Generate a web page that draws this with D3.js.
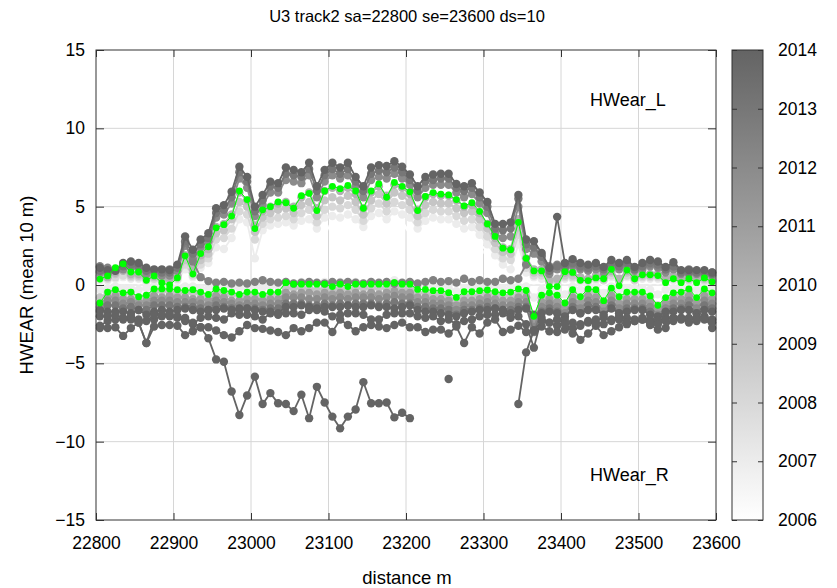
<!DOCTYPE html>
<html><head><meta charset="utf-8">
<script src="https://cdn.jsdelivr.net/npm/d3@7"></script>
<style>body{margin:0;background:#fff} text{font-family:"Liberation Sans",Arial,sans-serif;fill:#000}</style>
</head><body><svg id="chart" width="837" height="588"></svg>
<script>
// ---- data ----
const distStart = 22805, distStep = 10;   // sa=22800, mean over 10 m bins
const xTicks = [22800,22900,23000,23100,23200,23300,23400,23500,23600];
const yTicks = [-15,-10,-5,0,5,10,15];
const years = [2006,2007,2008,2009,2010,2011,2012,2013,2014];

const hwearL2006 = [0.2,0.2,0.3,0.3,0.3,0.3,0.2,0.2,0.1,0.1,0.2,
 0.8,0.4,0.9,1.2,2.0,2.0,2.6,3.6,3.5,2.8, 3.1,3.3,3.4,3.4,3.3,3.5,3.6,3.1,3.6,3.7,
 3.6,3.7,3.5,3.1,3.6,3.8,3.5,3.9,3.7,3.6, 3.1,3.5,3.6,3.5,3.5,3.3,3.1,3.1,2.7,2.1, 1.5,1.0,0.9,2.0,
 0.6,0.3,0.3,0.1,0.1,0.3,0.3,0.2,0.2,0.2,0.2,0.3,0.2,0.3,0.2,0.3,0.3,0.3,0.2,0.2,0.2,0.2,0.2,0.2,0.1];
const hwearL2007 = [0.3,0.3,0.4,0.5,0.4,0.4,0.2,0.3,0.2,0.2,0.3,
 1.0,0.5,1.1,1.4,2.4,2.3,3.0,4.2,4.0,1.7, 3.5,3.8,3.9,4.0,3.8,4.1,4.2,3.6,4.3,4.4,
 4.3,4.5,4.2,3.7,4.4,4.6,4.2,4.7,4.5,4.3, 3.6,4.1,4.3,4.2,4.2,3.9,3.6,3.7,3.2,2.6, 1.9,1.3,1.0,2.6,
 0.8,0.5,0.4,0.1,0.2,0.4,0.4,0.2,0.2,0.3,0.3,0.5,0.2,0.5,0.3,0.4,0.4,0.4,0.2,0.3,0.2,0.3,0.2,0.2,0.1];
const hwearL2008 = [0.4,0.4,0.5,0.6,0.5,0.5,0.3,0.4,0.2,0.3,0.4,
 1.3,0.6,1.3,1.7,2.9,3.0,3.6,4.7,4.5,2.9, 3.9,4.2,4.3,4.4,4.2,4.6,4.8,4.0,4.8,5.0,
 4.9,5.1,4.8,4.1,4.9,5.2,4.7,5.3,5.1,4.8, 4.0,4.6,4.8,4.7,4.7,4.4,4.1,4.2,3.7,3.1, 2.3,1.7,1.6,3.2,
 1.1,0.6,0.6,0.2,0.2,0.5,0.5,0.3,0.3,0.4,0.3,0.6,0.3,0.6,0.3,0.5,0.5,0.5,0.3,0.4,0.3,0.3,0.3,0.3,0.2];
const hwearL2009 = [0.5,0.5,0.7,1.0,0.6,0.6,0.4,0.5,0.3,0.3,0.5,
 1.6,0.8,1.6,2.0,3.3,3.5,4.2,5.3,5.0,3.4, 4.3,4.6,4.8,4.9,4.6,5.1,5.3,4.4,5.4,5.6,
 5.4,5.7,5.3,4.5,5.4,5.8,5.2,5.9,5.7,5.3, 4.4,5.1,5.3,5.2,5.2,4.9,4.6,4.7,4.2,3.6, 2.7,2.1,2.0,3.7,
 1.4,0.8,0.8,0.2,0.3,0.6,0.6,0.4,0.3,0.5,0.4,0.8,0.3,0.8,0.4,0.6,0.6,0.6,0.3,0.5,0.3,0.4,0.3,0.4,0.2];
const hwearL2010 = [0.6,0.5,0.8,0.9,0.7,0.7,0.5,0.6,0.4,0.4,0.6,
 1.9,1.0,1.9,2.3,3.7,3.9,4.5,5.9,5.4,3.8, 4.7,5.0,5.2,5.3,5.0,5.6,5.9,4.9,6.0,6.2,
 6.0,6.2,5.8,4.9,5.9,6.3,5.7,6.4,6.2,5.8, 4.8,5.6,5.8,5.7,5.7,5.4,5.0,5.1,4.6,3.9, 3.0,2.4,2.3,4.2,
 1.7,1.0,1.0,0.3,0.4,0.8,0.8,0.5,0.4,0.6,0.5,0.9,0.4,0.9,0.5,0.7,0.7,0.7,0.4,0.6,0.4,0.5,0.4,0.5,0.3];
const hwearL2012 = [0.8,0.7,0.9,1.0,1.1,1.0,0.7,0.8,0.6,0.6,0.9,
 2.5,1.7,2.4,2.8,4.3,4.5,5.2,6.8,6.2,4.4, 5.1,5.9,5.9,6.7,6.6,6.5,7.0,5.6,6.6,7.0,
 6.8,7.0,6.3,5.6,6.7,6.9,6.8,7.1,6.8,6.4, 5.6,6.2,6.4,6.4,6.4,5.9,5.6,5.8,5.2,4.6, 3.3,3.0,3.1,5.0,
 2.3,2.0,1.5,0.7,1.0,1.0,1.2,1.0,0.9,1.0,0.8,1.2,1.0,1.2,0.9,1.0,1.2,1.1,0.8,1.0,0.7,0.7,0.7,0.6,0.6];
const hwearL2013 = [0.9,0.8,1.0,1.2,1.3,1.2,0.9,0.9,0.8,0.8,1.1,
 2.8,2.0,2.6,3.0,4.6,4.8,5.6,7.2,6.6,4.7, 5.4,6.3,6.2,7.1,7.0,6.9,7.4,6.0,7.0,7.4,
 7.1,7.4,6.6,6.0,7.1,7.3,7.2,7.5,7.2,6.7, 6.0,6.6,6.7,6.8,6.8,6.2,6.0,6.2,5.6,5.0, 3.6,3.5,3.6,5.5,
 2.6,2.4,1.8,0.9,1.2,1.2,1.4,1.2,1.1,1.2,1.0,1.4,1.2,1.4,1.0,1.2,1.4,1.3,1.0,1.2,0.8,0.8,0.8,0.8,0.7];
const hwearL2014a = [1.1,0.95,0.9,1.4,1.5,1.4,1.1,1.0,1.0,0.95,1.3,
 3.1,2.25,2.9,3.3,4.9,5.1,5.95,7.55,6.9,5.0, 5.75,6.6,6.5,7.5,7.35,7.2,7.8,6.3,7.35,7.8,
 7.5,7.8,6.9,6.3,7.5,7.65,7.6,7.9,7.55,7.05, 6.3,6.9,7.05,7.1,7.1,6.45,6.3,6.5,5.9,5.3, 3.9,3.9,4.0,5.75,
 2.9,2.8,2.05,1.1,4.35,1.4,1.65,1.4,1.3,1.4,1.15,1.6,1.4,1.6,1.15,1.4,1.6,1.5,1.15,1.45,0.95,0.95,0.95,0.95,0.8];
const hwearL2014b = [1.2,1.1,1.0,1.3,1.2,1.3,1.0,0.9,0.9,1.0,1.2,
 2.7,1.5,0.5,0.25,0.15,0.2,0.1,0.15,0.1,0.2, 0.3,0.2,0.15,0.2,0.1,0.15,0.2,0.15,0.1,0.2,
 0.15,0.2,0.15,0.1,0.2,0.15,0.2,0.1,0.15,0.2, 0.1,0.2,0.3,0.2,0.25,0.15,0.4,0.2,0.3,0.2, 0.2,0.4,0.3,0.4,
 1.3,2.4,1.9,1.2,1.3,1.2,1.3,1.1,1.0,1.2,1.1,1.3,1.2,1.4,1.1,1.2,1.3,1.2,1.0,1.2,0.9,1.0,0.9,0.8,0.8];

const hwearR2007 = [-0.3,-0.2,-0.1,-0.2,-0.2,-0.3,-0.2,-0.1,-0.1,-0.1,-0.2,
 -0.1,-0.1,-0.2,-0.2,-0.1,-0.1,-0.2,-0.2,-0.2,-0.2, -0.2,-0.1,-0.1,0.2,0.1,0.2,0.1,0.1,0.2,0.1,
 0.2,0.1,0.2,0.1,0.2,0.1,0.2,0.3,0.1,0.2, -0.1,0.0,-0.1,0.0,-0.2,-0.4,-0.2,-0.2,-0.1,-0.1, -0.1,-0.2,-0.2,-0.1,
 -0.1,-0.8,-0.3,-0.2,-0.3,-0.6,-0.1,-0.3,-0.1,-0.1,-0.5,-0.1,-0.3,-0.2,-0.2,-0.2,-0.3,-0.6,-0.3,-0.2,-0.2,-0.1,-0.3,-0.1,-0.2];
const hwearR2009 = [-0.8,-0.5,-0.4,-0.6,-0.5,-0.8,-0.7,-0.4,-0.4,-0.4,-0.5,
 -0.5,-0.5,-0.6,-0.7,-0.4,-0.5,-0.6,-0.7,-0.6,-0.6, -0.7,-0.6,-0.6,-0.2,-0.2,-0.2,-0.2,-0.3,-0.2,-0.3,
 -0.2,-0.3,-0.2,-0.2,-0.2,-0.2,-0.2,-0.1,-0.2,-0.2, -0.5,-0.5,-0.6,-0.6,-0.7,-1.0,-0.7,-0.7,-0.6,-0.5, -0.6,-0.7,-0.7,-0.5,
 -0.5,-2.0,-0.8,-0.6,-0.8,-1.2,-0.5,-0.9,-0.4,-0.5,-1.1,-0.4,-0.9,-0.6,-0.6,-0.6,-0.8,-1.3,-0.9,-0.6,-0.6,-0.4,-0.9,-0.4,-0.6];
const hwearR2011 = [-1.2,-0.8,-0.7,-0.9,-0.9,-1.1,-1.0,-0.7,-0.8,-0.7,-0.8,
 -0.8,-0.9,-0.9,-1.0,-0.7,-0.8,-1.0,-1.0,-0.9,-0.9, -1.0,-0.9,-0.9,-0.5,-0.6,-0.5,-0.5,-0.6,-0.5,-0.6,
 -0.5,-0.6,-0.5,-0.6,-0.5,-0.6,-0.5,-0.4,-0.5,-0.5, -0.8,-0.8,-0.9,-0.9,-1.0,-1.3,-1.0,-1.0,-0.9,-0.8, -0.9,-1.0,-1.0,-0.8,
 -0.8,-2.4,-1.1,-0.9,-1.1,-1.5,-0.8,-1.2,-0.7,-0.8,-1.4,-0.7,-1.2,-0.9,-0.9,-0.9,-1.1,-1.6,-1.2,-0.9,-0.9,-0.7,-1.2,-0.7,-0.9];
const hwearR2012 = [-1.4,-1.0,-1.0,-1.2,-1.1,-1.3,-1.3,-1.0,-1.0,-1.0,-1.1,
 -1.1,-1.1,-1.2,-1.3,-1.0,-1.1,-1.2,-1.3,-1.2,-1.2, -1.3,-1.2,-1.2,-0.8,-0.8,-0.8,-0.9,-0.9,-0.8,-0.9,
 -0.8,-0.9,-0.8,-0.8,-0.8,-0.9,-0.8,-0.7,-0.8,-0.8, -1.1,-1.1,-1.2,-1.2,-1.3,-1.6,-1.3,-1.3,-1.2,-1.1, -1.2,-1.3,-1.3,-1.1,
 -1.1,-2.7,-1.4,-1.2,-1.4,-1.8,-1.1,-1.5,-1.0,-1.1,-1.7,-1.0,-1.5,-1.2,-1.2,-1.2,-1.4,-1.9,-1.5,-1.2,-1.2,-1.0,-1.5,-1.0,-1.2];
const hwearR2013 = [-1.7,-1.3,-1.3,-1.5,-1.4,-1.6,-1.6,-1.3,-1.3,-1.3,-1.4,
 -1.4,-1.4,-1.5,-1.6,-1.3,-1.4,-1.5,-1.6,-1.5,-1.5, -1.6,-1.5,-1.5,-1.2,-1.2,-1.2,-1.3,-1.3,-1.2,-1.3,
 -1.2,-1.3,-1.2,-1.2,-1.2,-1.3,-1.2,-1.1,-1.2,-1.2, -1.4,-1.4,-1.5,-1.5,-1.6,-1.9,-1.6,-1.6,-1.5,-1.4, -1.5,-1.6,-1.6,-1.4,
 -1.4,-3.0,-1.7,-1.5,-1.7,-2.1,-1.4,-1.8,-1.3,-1.4,-2.0,-1.3,-1.8,-1.5,-1.5,-1.5,-1.7,-2.2,-1.8,-1.5,-1.5,-1.3,-1.8,-1.3,-1.5];
const hwearR2014a = [-1.6,-1.7,-1.7,-1.7,-1.8,-1.6,-1.9,-1.7,-1.6,-1.7,-1.6,
 -1.5,-1.6,-1.7,-1.6,-1.6,-1.5,-1.6,-1.5,-1.5,-1.6, -1.7,-1.7,-1.8,-1.4,-1.4,-1.3,-1.4,-1.5,-1.4,-1.4,
 -1.4,-1.3,-1.4,-1.4,-1.3,-1.4,-1.4,-1.5,-1.4,-1.3, -1.6,-1.7,-1.7,-1.8,-1.9,-2.0,-1.8,-1.7,-1.6,-1.6, -1.5,-1.6,-1.8,-1.6,
 -1.5,-1.9,-1.8,-1.7,-1.8,-2.0,-1.6,-1.8,-1.6,-1.6,-1.9,-1.5,-1.8,-1.7,-1.6,-1.6,-1.9,-2.0,-1.7,-1.7,-1.6,-1.6,-1.8,-1.6,-1.7];
const hwearR2014b = [-2.6,-2.3,-2.2,-2.2,-2.2,-2.4,-3.7,-2.2,-2.0,-2.0,-2.1,
 -2.3,-2.5,-2.1,-2.0,-2.1,-2.2,-1.8,-1.9,-1.9,-2.0, -2.2,-1.8,-1.9,-1.8,-1.8,-1.9,-1.6,-1.6,-1.7,-2.0,
 -1.9,-1.8,-1.8,-1.9,-2.2,-2.2,-1.9,-1.8,-1.8,-1.8, -2.0,-2.1,-2.0,-2.3,-2.2,-2.5,-2.3,-2.2,-2.0,-1.9, -1.9,-1.8,-2.1,-2.0,
 -2.5,-4.0,-2.1,-2.4,-2.6,-2.3,-3.1,-2.5,-2.4,-2.2,-2.1,-2.2,-2.0,-2.5,-2.3,-2.1,-2.2,-2.3,-2.1,-2.1,-2.1,-2.2,-2.1,-2.0,-2.2];
const hwearR2014c = [-2.75,-2.75,-2.7,-3.25,-2.75,-2.4,-3.7,-2.65,-2.55,-2.55,-2.6,
 -3.2,-2.95,-2.7,-2.7,-2.9,-3.2,-3.35,-2.95,-2.55,-2.75, -2.8,-2.9,-3.0,-3.2,-2.75,-2.95,-2.75,-2.4,-2.4,-3.0,
 -2.2,-2.55,-2.95,-2.7,-2.55,-2.65,-2.75,-2.55,-2.4,-2.7, -2.7,-3.0,-2.85,-2.85,-3.1,-2.65,-3.7,-2.7,-3.1,-2.4, -2.2,-3.0,-2.85,-2.6,
 -3.0,-2.9,-2.65,-2.95,-3.0,-2.85,-2.75,-3.5,-3.1,-2.6,-3.2,-2.95,-2.7,-2.1,-2.2,-2.2,-2.55,-2.85,-2.75,-2.1,-2.1,-2.1,-2.1,-2.05,-2.75];
const hwearR2014d = [-2.0,-2.0,-1.9,-2.1,-2.0,-2.2,-2.3,-1.9,-1.9,-1.9,-2.0,
 -2.1,-2.4,-2.7,-3.4,-4.75,-4.9,-6.8,-8.3,-7.05,-5.85, -7.6,-6.9,-7.55,-7.6,-8.05,-7.0,-8.5,-6.5,-7.5,-8.4,
 -9.15,-8.4,-7.95,-6.2,-7.55,-7.55,-7.5,-8.45,-8.15,-8.5, null,null,null,null,-6.0,null,null,null,null,null, null,null,null,-7.6,
 -4.3,-2.9,-2.3,-2.4,-2.2,-2.5,-2.4,-2.6,-2.3,-2.4,-2.5,-2.3,-2.2,-2.4,-2.3,-2.2,-2.4,-2.5,-2.3,-2.3,-2.2,-2.4,-2.3,-2.2,-2.4];

const greenL = [0.38,0.58,1.1,1.35,0.83,0.83,0.3,0.58,0.13,0.0,0.45,
 1.86,0.7,2.0,2.44,3.65,3.85,4.4,6.0,5.45,3.6, 4.8,5.0,5.3,5.25,4.9,5.7,5.85,4.75,6.0,6.3,
 6.15,6.35,6.0,4.9,6.0,6.45,5.6,6.55,6.3,5.95, 4.75,5.65,5.9,5.8,5.75,5.45,5.05,5.25,4.7,3.9, 3.1,2.35,2.25,4.0,
 1.7,0.9,0.9,-0.1,-0.1,0.85,0.8,0.3,0.28,0.45, 0.4,1.0,-0.05,0.95,0.4,0.65,0.65,0.6,0.15,0.4, 0.15,0.4,0.15,0.45,0.2];
const greenR = [-1.15,-0.45,-0.3,-0.5,-0.45,-0.75,-0.65,-0.25,-0.25,-0.25,-0.3,
 -0.35,-0.3,-0.45,-0.6,-0.25,-0.35,-0.45,-0.6,-0.45,-0.45, -0.6,-0.45,-0.45,0.15,0.05,0.05,0.05,0.05,0.05,-0.1,
 0.05,-0.1,0.05,0.05,0.05,0.05,0.05,0.15,0.05,0.05, -0.28,-0.28,-0.36,-0.36,-0.49,-0.79,-0.43,-0.43,-0.36,-0.32, -0.43,-0.5,-0.45,-0.25,
 -0.35,-2.0,-0.65,-0.5,-0.65,-1.15,-0.3,-0.75,-0.25,-0.3, -1.0,-0.2,-0.75,-0.45,-0.45,-0.45,-0.7,-1.3,-0.8,-0.5, -0.45,-0.25,-0.8,-0.25,-0.5];

const graySeries = [
  {year:2006, values:hwearL2006}, {year:2007, values:hwearL2007}, {year:2007, values:hwearR2007},
  {year:2008, values:hwearL2008}, {year:2009, values:hwearL2009}, {year:2009, values:hwearR2009},
  {year:2010, values:hwearL2010}, {year:2011, values:hwearR2011},
  {year:2012, values:hwearL2012}, {year:2012, values:hwearR2012},
  {year:2012.5, values:hwearL2014b},
  {year:2013, values:hwearL2013}, {year:2013, values:hwearR2013},
  {year:2014, values:hwearL2014a},
  {year:2014, values:hwearR2014a}, {year:2014, values:hwearR2014b},
  {year:2014, values:hwearR2014c}, {year:2014, values:hwearR2014d}
];
const greenSeries = [greenL, greenR];

// ---- layout ----
const L = 96, R = 716, T = 50, B = 520;
const svg = d3.select("#chart");
const x = d3.scaleLinear().domain([22800,23600]).range([L,R]);
const y = d3.scaleLinear().domain([-15,15]).range([B,T]);
const color = d3.scaleLinear().domain([2006,2014]).range(["#ffffff","#646464"]).interpolate(d3.interpolateRgb);
const dist = i => distStart + distStep*i;

// grid
const grid = svg.append("g");
grid.selectAll("line.gx").data(xTicks.slice(1,-1)).join("line")
  .attr("x1",d=>x(d)).attr("x2",d=>x(d)).attr("y1",T).attr("y2",B)
  .attr("stroke","#d6d6d6").attr("stroke-width",1);
grid.selectAll("line.gy").data(yTicks.slice(1,-1)).join("line")
  .attr("y1",d=>y(d)).attr("y2",d=>y(d)).attr("x1",L).attr("x2",R)
  .attr("stroke","#d6d6d6").attr("stroke-width",1);

// data
const plot = svg.append("g");
const line = d3.line().defined(d=>d.v!==null).x(d=>x(d.x)).y(d=>y(d.v));
function drawSeries(vals, col, lw, r){
  const pts = vals.map((v,i)=>({x:dist(i), v:v}));
  const g = plot.append("g");
  g.append("path").attr("d", line(pts)).attr("fill","none").attr("stroke",col).attr("stroke-width",lw);
  g.selectAll("circle").data(pts.filter(p=>p.v!==null)).join("circle")
    .attr("cx",p=>x(p.x)).attr("cy",p=>y(p.v)).attr("r",r).attr("fill",col);
}
graySeries.forEach(s => drawSeries(s.values, color(s.year), 1.8, 4.2));
greenSeries.forEach(v => drawSeries(v, "#00ff00", 1, 3.4));

// axes
const axisCol = "#333";
const fontFam = "Liberation Sans, Arial, sans-serif";
const gxB = svg.append("g").attr("transform",`translate(0,${B})`)
  .call(d3.axisBottom(x).tickValues(xTicks).tickSize(-7).tickPadding(17).tickFormat(d3.format("d")));
const gxT = svg.append("g").attr("transform",`translate(0,${T})`)
  .call(d3.axisTop(x).tickValues(xTicks).tickSize(-7).tickFormat(""));
const gyL = svg.append("g").attr("transform",`translate(${L},0)`)
  .call(d3.axisLeft(y).tickValues(yTicks).tickSize(-8).tickPadding(11));
const gyR = svg.append("g").attr("transform",`translate(${R},0)`)
  .call(d3.axisRight(y).tickValues(yTicks).tickSize(-8).tickFormat(""));
[gxB,gxT,gyL,gyR].forEach(g=>{
  g.select(".domain").remove();
  g.selectAll(".tick line").attr("stroke",axisCol);
  g.selectAll("text").attr("font-size",17.5).attr("font-family",fontFam).attr("fill","#000");
});
svg.append("rect").attr("x",L).attr("y",T).attr("width",R-L).attr("height",B-T)
  .attr("fill","none").attr("stroke",axisCol).attr("stroke-width",1);

// labels
svg.append("text").attr("x",407).attr("y",22).attr("text-anchor","middle").attr("font-size",16.5)
  .text("U3 track2 sa=22800 se=23600 ds=10");
svg.append("text").attr("x",407).attr("y",584).attr("text-anchor","middle").attr("font-size",18.5)
  .text("distance m");
svg.append("text").attr("transform","translate(33,285) rotate(-90)").attr("text-anchor","middle").attr("font-size",18.5)
  .text("HWEAR (mean 10 m)");
svg.append("text").attr("x",590).attr("y",106).attr("font-size",18).text("HWear_L");
svg.append("text").attr("x",590).attr("y",481).attr("font-size",18).text("HWear_R");

// colorbar
const cbX = 732, cbW = 31;
const cy = d3.scaleLinear().domain([2006,2014]).range([B,T]);
const defs = svg.append("defs");
const grad = defs.append("linearGradient").attr("id","cbgrad").attr("x1",0).attr("y1",1).attr("x2",0).attr("y2",0);
years.forEach(yr => grad.append("stop").attr("offset",(yr-2006)/8).attr("stop-color",color(yr)));
svg.append("rect").attr("x",cbX).attr("y",T).attr("width",cbW).attr("height",B-T)
  .attr("fill","url(#cbgrad)").attr("stroke",axisCol).attr("stroke-width",1);
const gcR = svg.append("g").attr("transform",`translate(${cbX+cbW},0)`)
  .call(d3.axisRight(cy).tickValues(years).tickSize(-5).tickPadding(15).tickFormat(d3.format("d")));
const gcL = svg.append("g").attr("transform",`translate(${cbX},0)`)
  .call(d3.axisLeft(cy).tickValues(years).tickSize(-5).tickFormat(""));
[gcR,gcL].forEach(g=>{
  g.select(".domain").remove();
  g.selectAll(".tick line").attr("stroke",axisCol);
  g.selectAll("text").attr("font-size",17.5).attr("font-family",fontFam).attr("fill","#000");
});
</script></body></html>
